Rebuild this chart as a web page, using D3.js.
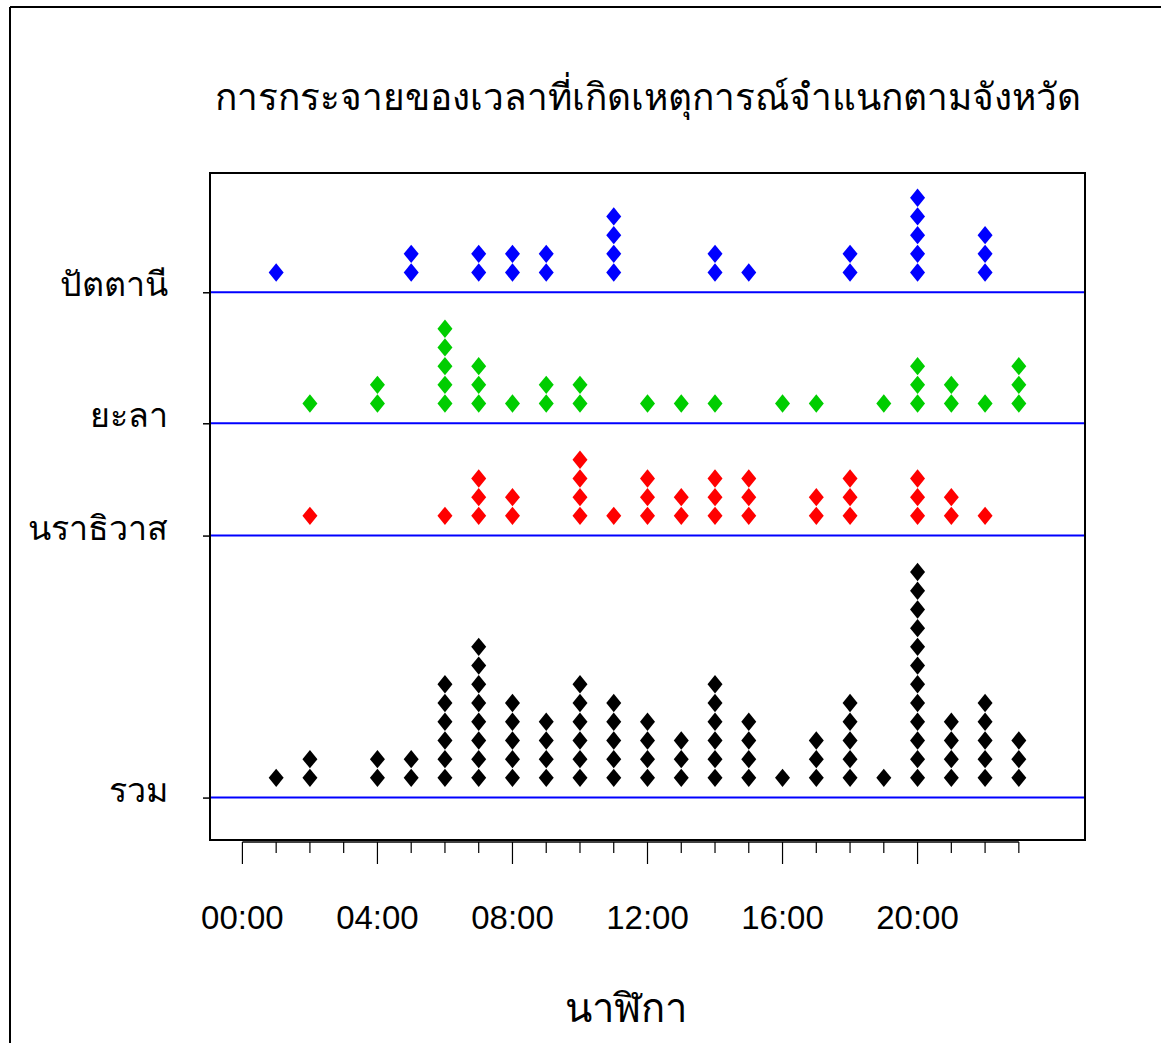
<!DOCTYPE html>
<html>
<head>
<meta charset="utf-8">
<script src="https://cdn.jsdelivr.net/npm/d3@7"></script>
<style>
  body { margin: 0; background: #fff; }
  text { font-family: "Liberation Sans", Arial, sans-serif; fill: #000; }
</style>
</head>
<body>
<div id="chart"></div>
<script>
// counts of incidents per hour (00..23)
const hours = [0,1,2,3,4,5,6,7,8,9,10,11,12,13,14,15,16,17,18,19,20,21,22,23]
const pattani    = [0,1,0,0,0,2,0,2,2,2,0,4,0,0,2,1,0,0,2,0,5,0,3,0]
const yala       = [0,0,1,0,2,0,5,3,1,2,2,0,1,1,1,0,1,1,0,1,3,2,1,3]
const narathiwat = [0,0,1,0,0,0,1,3,2,0,4,1,3,2,3,3,0,2,3,0,3,2,1,0]
const total      = [0,1,2,0,2,2,6,8,5,4,6,5,4,3,6,4,1,3,5,1,12,4,5,3]

const groupNames  = ["ปัตตานี", "ยะลา", "นราธิวาส", "รวม"]
const groupColors = ["#0000FF", "#00CD00", "#FF0000", "#000000"]
const tickHours  = [0, 4, 8, 12, 16, 20]
const tickLabels = ["00:00", "04:00", "08:00", "12:00", "16:00", "20:00"]

const title  = "การกระจายของเวลาที่เกิดเหตุการณ์จำแนกตามจังหวัด"
const xTitle = "นาฬิกา"

const width = 1161, height = 1043
const box = {left: 210, right: 1085, top: 173, bottom: 840}

let svg = d3.select("#chart")
            .append("svg")
                .attr("width", width)
                .attr("height", height)

// page frame (top and left edge only, like the cropped original)
svg.append("line").attr("x1", 10).attr("x2", width).attr("y1", 7).attr("y2", 7)
    .attr("stroke", "#000").attr("stroke-width", 2)
svg.append("line").attr("x1", 10).attr("x2", 10).attr("y1", 7).attr("y2", height)
    .attr("stroke", "#000").attr("stroke-width", 2)

// stack groups bottom-up: each base sits 2 steps above the previous group's tallest column
let series = [total, narathiwat, yala, pattani]
let bases = []
let acc = 0
series.forEach(s => {
    bases.push(acc)
    acc += d3.max(s) + 2
})
bases.reverse()   // order matches groupNames
let groups = [pattani, yala, narathiwat, total].map((counts, i) => ({
    name: groupNames[i],
    color: groupColors[i],
    base: bases[i],
    counts: counts
}))

let yTop = d3.max(groups, g => g.base + d3.max(g.counts))
let yPad = (yTop + 1) * 0.04
let x = d3.scaleLinear()
            .domain([0 - 24 * 0.04, 24 + 24 * 0.04])
            .range([box.left, box.right])
let y = d3.scaleLinear()
            .domain([-1 - yPad, yTop + yPad])
            .range([box.bottom, box.top])

// baselines
svg.selectAll("line.base")
    .data(groups)
    .enter().append("line")
        .attr("class", "base")
        .attr("x1", box.left)
        .attr("x2", box.right)
        .attr("y1", d => y(d.base) + 1)
        .attr("y2", d => y(d.base) + 1)
        .attr("stroke", "#0000FF")
        .attr("stroke-width", 2)

// diamonds
let dots = []
groups.forEach(g => {
    g.counts.forEach((c, h) => {
        for (let k = 1; k <= c; k++) dots.push({hour: hours[h], level: g.base + k, color: g.color})
    })
})
const hw = 7.5, hh = 9.2
svg.selectAll("path.dot")
    .data(dots)
    .enter().append("path")
        .attr("class", "dot")
        .attr("d", `M0,${-hh}L${hw},0L0,${hh}L${-hw},0Z`)
        .attr("transform", d => `translate(${x(d.hour)},${y(d.level)})`)
        .attr("fill", d => d.color)

// plot box
svg.append("rect")
    .attr("x", box.left).attr("y", box.top)
    .attr("width", box.right - box.left).attr("height", box.bottom - box.top)
    .attr("fill", "none").attr("stroke", "#000").attr("stroke-width", 2)

// y ticks + labels
let yAxis = d3.axisLeft(y)
                .tickValues(groups.map(g => g.base))
                .tickSize(7)
                .tickFormat("")
svg.append("g")
    .attr("transform", `translate(${box.left},1)`)
    .call(yAxis)
    .call(g => g.select(".domain").remove())
    .call(g => g.selectAll("line").attr("stroke-width", 1.5))

svg.selectAll("text.ylab")
    .data(groups)
    .enter().append("text")
        .attr("class", "ylab")
        .attr("x", 168)
        .attr("y", d => y(d.base) + 5)
        .attr("text-anchor", "end")
        .attr("font-size", 34)
        .text(d => d.name)

// x axis: hour ticks, longer at every 4 hours
let xg = svg.append("g").attr("transform", `translate(0,${box.bottom + 2})`)
xg.append("line")
    .attr("x1", x(hours[0])).attr("x2", x(hours[hours.length - 1]))
    .attr("stroke", "#000").attr("stroke-width", 1.5)
xg.selectAll("line.tick")
    .data(hours)
    .enter().append("line")
        .attr("class", "tick")
        .attr("x1", d => x(d)).attr("x2", d => x(d))
        .attr("y1", 0)
        .attr("y2", d => tickHours.includes(d) ? 22 : 11)
        .attr("stroke", "#000").attr("stroke-width", 1.2)

svg.selectAll("text.xlab")
    .data(tickHours)
    .enter().append("text")
        .attr("class", "xlab")
        .attr("x", d => x(d))
        .attr("y", 929)
        .attr("text-anchor", "middle")
        .attr("font-size", 33)
        .text((d, i) => tickLabels[i])

// titles
svg.append("text")
    .attr("x", (box.left + box.right) / 2)
    .attr("y", 110)
    .attr("text-anchor", "middle")
    .attr("font-size", 37)
    .text(title)

svg.append("text")
    .attr("x", (box.left + box.right) / 2 - 22)
    .attr("y", 1022)
    .attr("text-anchor", "middle")
    .attr("font-size", 40)
    .text(xTitle)
</script>
</body>
</html>
